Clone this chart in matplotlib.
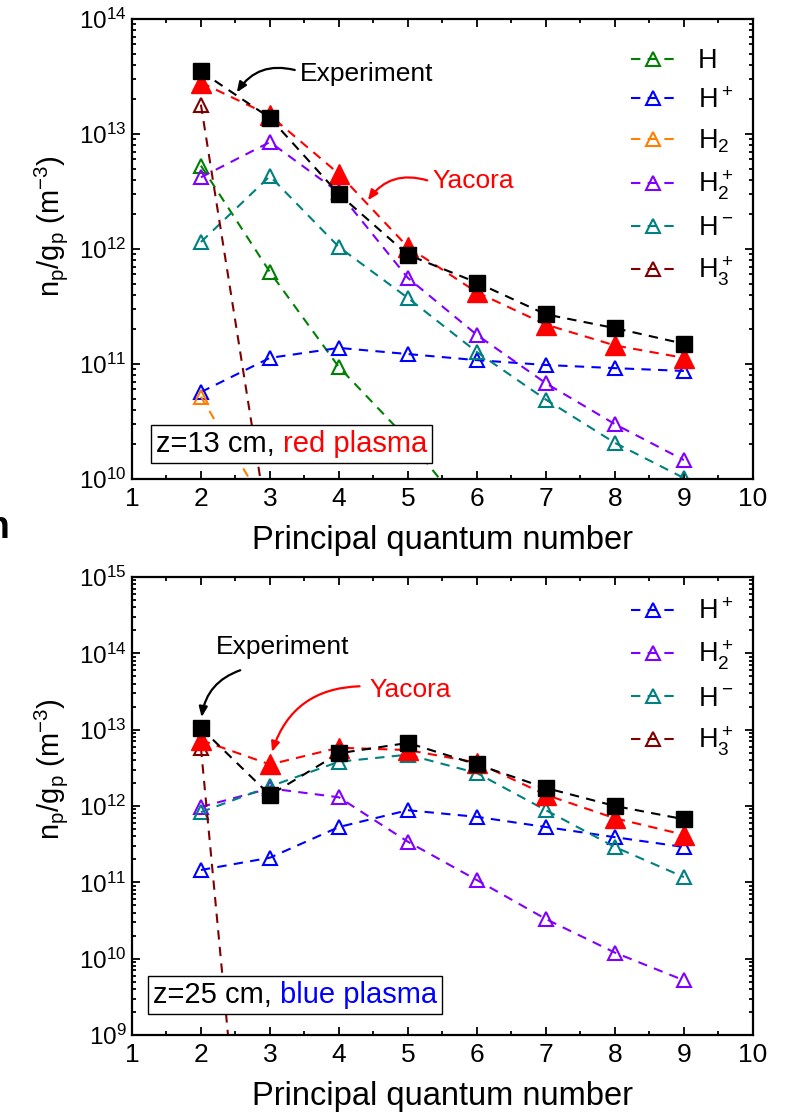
import matplotlib
matplotlib.use('Agg')
import matplotlib.pyplot as plt
from matplotlib.ticker import LogLocator, MultipleLocator, NullFormatter
from matplotlib.offsetbox import TextArea, HPacker, AnchoredOffsetbox

plt.rcParams['font.family'] = ['Liberation Sans', 'DejaVu Sans']
plt.rcParams['mathtext.fontset'] = 'custom'
plt.rcParams['mathtext.rm'] = 'Liberation Sans'
plt.rcParams['mathtext.it'] = 'Liberation Sans:italic'
plt.rcParams['mathtext.bf'] = 'Liberation Sans:bold'

# --- Data -------------------------------------------------------------------------------------------------------------
n = [2, 3, 4, 5, 6, 7, 8, 9]

# z = 13 cm (red plasma)
exp_13 = [3.5e13, 1.38e13, 3.0e12, 8.9e11, 5.1e11, 2.7e11, 2.05e11, 1.5e11]
yac_13 = [2.8e13, 1.45e13, 4.5e12, 1.04e12, 4.2e11, 2.2e11, 1.45e11, 1.13e11]
n_H_13 = [2, 3, 4, 5, 6]
H_13 = [5.3e12, 6.3e11, 9.4e10, 2.2e10, 4.0e9]
Hp_13 = [5.7e10, 1.13e11, 1.38e11, 1.22e11, 1.08e11, 9.8e10, 9.2e10, 8.7e10]
n_H2_13 = [2, 3]
H2_13 = [5.2e10, 5.0e9]
H2p_13 = [4.2e12, 8.5e12, 3.1e12, 5.6e11, 1.79e11, 6.8e10, 3.0e10, 1.46e10]
Hm_13 = [1.15e12, 4.3e12, 1.04e12, 3.75e11, 1.27e11, 4.9e10, 2.06e10, 1.02e10]
n_H3p_13 = [2, 3]
H3p_13 = [1.8e13, 3.0e9]

# z = 25 cm (blue plasma)
exp_25 = [1.05e13, 1.39e12, 4.9e12, 6.7e12, 3.5e12, 1.72e12, 1.0e12, 6.7e11]
yac_25 = [7.3e12, 3.5e12, 5.8e12, 5.4e12, 3.7e12, 1.4e12, 6.9e11, 4.2e11]
Hp_25 = [1.45e11, 2.1e11, 5.3e11, 8.8e11, 7.2e11, 5.3e11, 3.9e11, 2.9e11]
H2p_25 = [9.7e11, 1.7e12, 1.3e12, 3.4e11, 1.07e11, 3.3e10, 1.2e10, 5.2e9]
Hm_25 = [8.3e11, 1.8e12, 3.8e12, 4.7e12, 2.7e12, 8.8e11, 2.9e11, 1.17e11]
n_H3p_25 = [2, 3]
H3p_25 = [5.8e12, 1.5e3]

labels = {'H': 'H', 'Hp': r'H$^+$', 'H2': r'H$_2$', 'H2p': r'H$_2^+$', 'Hm': r'H$^-$', 'H3p': r'H$_3^+$'}
colors = {'H': '#008000', 'Hp': '#0000FF', 'H2': '#FF8000', 'H2p': '#8000FF', 'Hm': '#008080', 'H3p': '#800000'}

DASH = (4.5, 3.5)


def species(ax, x, y, key):
    ax.plot(x, y, ls='--', dashes=DASH, lw=1.5, color=colors[key], marker='^', ms=10.5,
            mfc='none', mec=colors[key], mew=1.5, label=labels[key])


def style(ax, ylim):
    ax.set_yscale('log')
    ax.set_xlim(1, 10)
    ax.set_ylim(*ylim)
    ax.xaxis.set_major_locator(MultipleLocator(1))
    ax.xaxis.set_minor_locator(MultipleLocator(0.5))
    ax.yaxis.set_major_locator(LogLocator(base=10, numticks=20))
    ax.yaxis.set_minor_locator(LogLocator(base=10, subs=range(2, 10), numticks=20))
    ax.yaxis.set_minor_formatter(NullFormatter())
    ax.tick_params(which='both', direction='in', top=True, right=True, width=1.3)
    ax.tick_params(which='major', length=5.5)
    ax.tick_params(which='minor', length=3)
    ax.tick_params(axis='x', labelsize=19, pad=6)
    ax.tick_params(axis='y', labelsize=17.5, pad=4)
    for s in ax.spines.values():
        s.set_linewidth(1.6)
    ax.set_xlabel('Principal quantum number', fontsize=23.5, labelpad=10)
    ax.set_ylabel(r'n$_\mathregular{p}$/g$_\mathregular{p}$ (m$^{-3}$)', fontsize=21)


def info_box(ax, txt, colored, ccolor, pos):
    a = TextArea(txt, textprops=dict(color='black', fontsize=21))
    b = TextArea(colored, textprops=dict(color=ccolor, fontsize=21))
    box = AnchoredOffsetbox(loc='lower left', child=HPacker(children=[a, b], pad=0, sep=0),
                            pad=0.35, borderpad=0, frameon=True,
                            bbox_to_anchor=pos, bbox_transform=ax.transAxes)
    box.patch.set_linewidth(1.0)
    box.zorder = 6
    ax.add_artist(box)


def arrow(ax, start, tip, color, rad):
    ax.annotate('', xy=tip, xytext=start,
                arrowprops=dict(arrowstyle='-|>,head_length=0.6,head_width=0.25', color=color, lw=1.6,
                                connectionstyle=f'arc3,rad={rad}', shrinkA=0, shrinkB=0))


fig = plt.figure(figsize=(7.9, 11.16), dpi=100)
ax1 = fig.add_axes([0.167, 0.5708, 0.786, 0.4122])
ax2 = fig.add_axes([0.167, 0.0726, 0.786, 0.4104])

# --- Top panel ----------------------------------------------------------------------------------------------------------
species(ax1, n_H_13, H_13, 'H')
species(ax1, n, Hp_13, 'Hp')
species(ax1, n_H2_13, H2_13, 'H2')
species(ax1, n, H2p_13, 'H2p')
species(ax1, n, Hm_13, 'Hm')
species(ax1, n_H3p_13, H3p_13, 'H3p')
ax1.plot(n, yac_13, ls='--', dashes=DASH, lw=1.5, color='red', marker='^', ms=15, zorder=3)
ax1.plot(n, exp_13, ls='--', dashes=DASH, lw=1.5, color='black', marker='s', ms=11, zorder=4)
style(ax1, (1e10, 1e14))
ax1.legend(loc='upper right', bbox_to_anchor=(0.985, 0.96), frameon=False, fontsize=19.5,
           handlelength=1.6, handletextpad=0.85, labelspacing=0.5, borderaxespad=0)
ax1.text(3.43, 3.3e13, 'Experiment', fontsize=19, va='center', ha='left')
arrow(ax1, (3.36, 3.6e13), (2.52, 2.3e13), 'black', 0.35)
ax1.text(5.35, 3.9e12, 'Yacora', fontsize=19, va='center', ha='left', color='red')
arrow(ax1, (5.28, 3.95e12), (4.42, 2.65e12), 'red', 0.35)
info_box(ax1, 'z=13 cm, ', 'red plasma', 'red', (0.031, 0.035))
ax1.yaxis.set_label_coords(-0.10, 0.55)

# --- Bottom panel -------------------------------------------------------------------------------------------------------
species(ax2, n, Hp_25, 'Hp')
species(ax2, n, H2p_25, 'H2p')
species(ax2, n, Hm_25, 'Hm')
species(ax2, n_H3p_25, H3p_25, 'H3p')
ax2.plot(n, yac_25, ls='--', dashes=DASH, lw=1.5, color='red', marker='^', ms=15, zorder=3)
ax2.plot(n, exp_25, ls='--', dashes=DASH, lw=1.5, color='black', marker='s', ms=11, zorder=4)
style(ax2, (1e9, 1e15))
ax2.legend(loc='upper right', bbox_to_anchor=(0.985, 0.975), frameon=False, fontsize=19.5,
           handlelength=1.6, handletextpad=0.85, labelspacing=0.5, borderaxespad=0)
ax2.text(3.19, 1.2e14, 'Experiment', fontsize=19, va='center', ha='center')
arrow(ax2, (2.57, 6.0e13), (2.01, 1.46e13), 'black', 0.3)
ax2.text(4.45, 3.3e13, 'Yacora', fontsize=19, va='center', ha='left', color='red')
arrow(ax2, (4.30, 3.7e13), (3.03, 5.1e12), 'red', 0.35)
info_box(ax2, 'z=25 cm, ', 'blue plasma', 'blue', (0.026, 0.046))
ax2.yaxis.set_label_coords(-0.10, 0.58)

# cropped panel letter at the left edge
fig.text(9 / 790, 1 - 538 / 1116, 'n', fontsize=27, fontweight='bold', ha='right', va='baseline')

fig.savefig('out.png', dpi=100)
